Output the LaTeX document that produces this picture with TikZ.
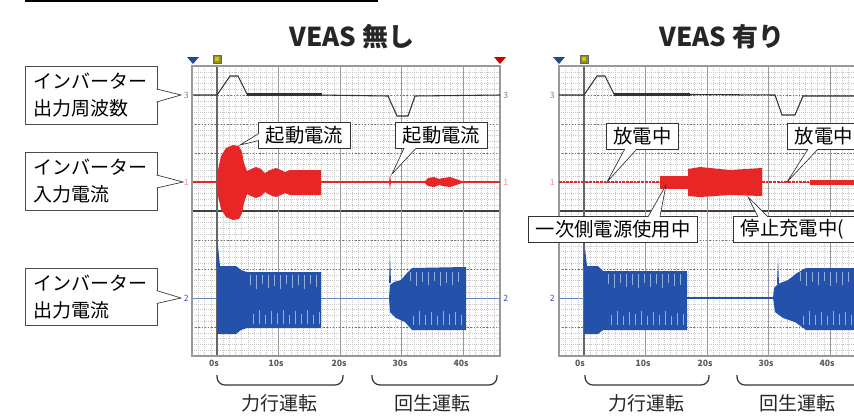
\documentclass[tikz,border=0pt]{standalone}
\usepackage{fontspec}
\setmainfont{Noto Sans CJK JP}
\usetikzlibrary{calc}

\definecolor{trcRed}{RGB}{232,38,38}
\definecolor{trcBlue}{RGB}{36,82,170}
\definecolor{trcLite}{RGB}{150,172,218}
\definecolor{mkGold}{RGB}{140,140,40}
\definecolor{mkBlue}{RGB}{36,70,150}
\definecolor{chNum}{RGB}{130,130,130}

\tikzset{
  lblbox/.style={draw=black!70, line width=0.6pt, fill=white, align=left, text width=87pt,
    inner xsep=6pt, minimum height=43pt, font=\fontsize{14.25}{20.25}\selectfont},
  callbox/.style={draw=black!80, line width=0.6pt, fill=white, inner xsep=5.5pt, inner ysep=0pt,
    minimum height=19.5pt, font=\fontsize{14.5}{16}\selectfont},
  tipline/.style={draw=black!80, line width=0.5pt},
  ttl/.style={font=\fontsize{19.5}{21}\selectfont\bfseries, text=black!85},
  tick/.style={font=\fontsize{6.5}{7}\selectfont\bfseries, text=black!65, inner sep=0.75pt},
  chnum/.style={font=\fontsize{6.5}{7}\selectfont, inner sep=0.75pt},
  minorgrid/.style={draw=black!22, line width=0.35pt, dash pattern=on 0.5pt off 1pt},
  majorh/.style={draw=black!55, line width=0.6pt, dash pattern=on 1pt off 1.4pt},
  majorv/.style={draw=black!40, line width=0.7pt},
  frame/.style={draw=black!40, line width=0.8pt},
  freqline/.style={draw=black!80, line width=0.8pt},
  brace/.style={draw=black!80, line width=0.9pt, rounded corners=6pt},
  modelbl/.style={font=\fontsize{14.25}{16}\selectfont, text=black!85, inner sep=0.75pt},
  stripe/.style={draw=trcLite, line width=0.6pt}
}

\newcommand{\calltip}[3]{%
  \fill[white] #1 -- #2 -- #3 -- cycle;
  \draw[tipline] #1 -- #2 -- #3;}

\begin{document}
\begin{tikzpicture}[x=0.75pt,y=0.75pt,yscale=-1,xscale=1]
\useasboundingbox (0,0) rectangle (854,415);

%Straight Lines top rule
\draw [line width=0.9pt] (25,1) -- (378,1) ;

% ---- left chart grid
\foreach \k in {-4,...,46} \draw [minorgrid] ({217+\k*6.15},66) -- ({217+\k*6.15},356) ;
\foreach \k in {1,...,49} \draw [minorgrid] (192,{66+\k*5.8}) -- (500,{66+\k*5.8}) ;
\foreach \k in {1,2,3,4,6,7,8,9} \draw [majorh] (192,{66+\k*29}) -- (500,{66+\k*29}) ;
\draw [draw=black!75, line width=1.1pt] (192,211) -- (500,211) ;
\foreach \k in {1,...,4} \draw [majorv] ({217+\k*61.5},66) -- ({217+\k*61.5},356) ;
\draw [draw=black!60, line width=0.9pt] (217,66) -- (217,356) ;
\draw [frame] (192,66) rectangle (500,356) ;

% ---- right chart grid
\foreach \k in {-4,...,45} \draw [minorgrid] ({584+\k*6.15},66) -- ({584+\k*6.15},356) ;
\foreach \k in {1,...,49} \draw [minorgrid] (559,{66+\k*5.8}) -- (870,{66+\k*5.8}) ;
\foreach \k in {1,2,3,4,6,7,8,9} \draw [majorh] (559,{66+\k*29}) -- (870,{66+\k*29}) ;
\draw [draw=black!75, line width=1.1pt] (559,211) -- (870,211) ;
\foreach \k in {1,...,4} \draw [majorv] ({584+\k*61.5},66) -- ({584+\k*61.5},356) ;
\draw [draw=black!60, line width=0.9pt] (584,66) -- (584,356) ;
\draw [frame] (559,66) rectangle (870,356) ;

% ---- markers
\fill [mkBlue] (187,57) -- (199,57) -- (193,64) -- cycle ;
\fill [mkBlue] (553,57) -- (565,57) -- (559,64) -- cycle ;
\fill [red!80!black] (494,57) -- (506,57) -- (500,64) -- cycle ;
\draw [fill=mkGold, draw=black!60, line width=0.4pt] (213,55) rectangle (221,63) ;
\draw [fill=mkGold, draw=black!60, line width=0.4pt] (580,55) rectangle (588,63) ;
\fill [yellow!60!olive] (215,57) rectangle (219,61) ;
\fill [yellow!60!olive] (582,57) rectangle (586,61) ;

% ---- frequency traces
\draw [freqline] (193,95) -- (217,95) -- (230,76) -- (238,76) -- (247,94) -- (388,96) -- (397,116) -- (408,116) -- (415,96) -- (500,95) ;
\draw [freqline, line width=1.6pt] (247,94.5) -- (322,94.5) ;
\draw [freqline] (559,95) -- (584,95) -- (597,76) -- (605,76) -- (614,94) -- (775,95) -- (782,115) -- (795,115) -- (803,96) -- (860,96) ;
\draw [freqline, line width=1.6pt] (614,94.5) -- (690,94.5) ;

% ---- input current traces
\draw [trcRed, line width=0.8pt] (193,182) -- (500,182) ;
\fill [trcRed] (217,182) -- (218,170) -- (221,156) -- (226,148) -- (233,145) -- (239,146) -- (242,152) -- (244,163) -- (247,171) -- (251,169) -- (256,167) -- (261,169) -- (265,173) -- (270,170) -- (276,168) -- (281,170) -- (285,172) -- (290,170) -- (321,170) -- (321,195) -- (290,195) -- (285,193) -- (281,195) -- (276,197) -- (270,195) -- (265,192) -- (261,196) -- (256,198) -- (251,196) -- (247,194) -- (244,203) -- (242,213) -- (239,219) -- (233,220) -- (226,217) -- (221,209) -- (218,196) -- cycle ;
\fill [trcRed] (389,182) -- (390,175) -- (391,182) -- (390,189) -- cycle ;
\fill [trcRed] (424,182) -- (428,178) -- (434,177) -- (439,179) -- (443,178) -- (450,177) -- (456,179) -- (465,182) -- (456,185) -- (450,187) -- (443,186) -- (439,185) -- (434,187) -- (428,186) -- cycle ;
\draw [trcRed, line width=0.8pt, dash pattern=on 2pt off 0.8pt] (559,182) -- (660,182) (762,182) -- (810,182) ;
\fill [trcRed] (660,176) rectangle (688,189) ;
\fill [trcRed] (688,169) -- (700,167) -- (730,170) -- (762,168) -- (762,196) -- (730,195) -- (700,197) -- (688,196) -- cycle ;
\fill [trcRed] (810,180) rectangle (860,185) ;

% ---- output current traces
\draw [trcBlue!70, line width=0.6pt] (193,298) -- (500,298) ;
\draw [trcBlue!70, line width=0.6pt] (559,298) -- (584,298) ;
\draw [trcBlue, line width=1.2pt] (687,298) -- (773,298) ;
\fill [trcBlue] (217,266) -- (236,266) -- (241,270) -- (247,272) -- (321,272) -- (321,328) -- (247,328) -- (241,330) -- (236,334) -- (217,334) -- cycle ;
\fill [trcBlue] (216,266) -- (218,246) -- (220,266) -- cycle ;
\fill [trcBlue] (389,298) -- (390,285) -- (394,282) -- (401,280) -- (407,273) -- (412,268) -- (466,267) -- (466,330) -- (412,330) -- (405,322) -- (396,318) -- (390,312) -- cycle ;
\fill [trcBlue] (389,283) -- (390,254) -- (391,283) -- cycle ;
\fill [trcBlue] (584,266) -- (598,266) -- (603,271) -- (687,271) -- (687,330) -- (603,330) -- (598,334) -- (584,334) -- cycle ;
\fill [trcBlue] (583,266) -- (585,248) -- (587,266) -- cycle ;
\fill [trcBlue] (773,298) -- (774,288) -- (778,284) -- (788,280) -- (797,273) -- (806,268) -- (860,268) -- (860,330) -- (806,330) -- (795,322) -- (783,318) -- (775,312) -- cycle ;
\fill [trcBlue] (777,284) -- (778,258) -- (779,284) -- cycle ;
\foreach \sx/\sl in {250/10,256/14,262/9,268/13,274/11,280/14,286/9,292/13,298/10,304/14,310/9,316/12} { \draw [stripe] (\sx,275) -- (\sx,{275+\sl}) ; \draw [stripe] ({\sx+3},{324-\sl}) -- ({\sx+3},324) ; }
\foreach \sx/\sl in {410/9,416/14,422/10,428/13,434/9,440/14,446/11,452/13,458/10} { \draw [stripe] (\sx,272) -- (\sx,{272+\sl}) ; \draw [stripe] ({\sx+3},{325-\sl}) -- ({\sx+3},325) ; }
\foreach \sx/\sl in {608/10,614/14,620/9,626/13,632/11,638/14,644/9,650/13,656/10,662/14,668/9,674/12,680/11} { \draw [stripe] (\sx,274) -- (\sx,{274+\sl}) ; \draw [stripe] ({\sx+3},{325-\sl}) -- ({\sx+3},325) ; }
\foreach \sx/\sl in {800/9,806/14,812/10,818/13,824/9,830/14,836/11,842/13,848/10} { \draw [stripe] (\sx,272) -- (\sx,{272+\sl}) ; \draw [stripe] ({\sx+3},{325-\sl}) -- ({\sx+3},325) ; }

% Text Node channel numbers
\draw (190,95) node [chnum, anchor=east, text=chNum] (n3a) {3};
\draw (190,182) node [chnum, anchor=east, text=red!45] (n1a) {1};
\draw (190,298) node [chnum, anchor=east, text=blue!40!gray] (n2a) {2};
\draw (502,95) node [chnum, anchor=west, text=chNum] (n3b) {3};
\draw (502,182) node [chnum, anchor=west, text=red!45] (n1b) {1};
\draw (502,298) node [chnum, anchor=west, text=blue!40!gray] (n2b) {2};
\draw (556,95) node [chnum, anchor=east, text=chNum] (n3c) {3};
\draw (556,182) node [chnum, anchor=east, text=red!45] (n1c) {1};
\draw (556,298) node [chnum, anchor=east, text=blue!40!gray] (n2c) {2};

% Text Node titles
\draw (352,37) node [ttl] (ttlA) {VEAS 無し};
\draw (722,37) node [ttl] (ttlB) {VEAS 有り};

% Text Node time ticks
\foreach \t/\lx in {0s/214,10s/276,20s/339,30s/400,40s/461} \draw (\lx,363) node [tick] {\t};
\foreach \t/\lx in {0s/580,10s/643,20s/705,30s/766,40s/827} \draw (\lx,363) node [tick] {\t};

% Text Node signal labels
\draw (91,95.5) node [lblbox] (lb1) {インバーター\\出力周波数};
\draw (91,181.5) node [lblbox] (lb2) {インバーター\\入力電流};
\draw (91,297) node [lblbox] (lb3) {インバーター\\出力電流};
\coordinate (tp1) at (181,95) ;
\coordinate (tp2) at (183,182) ;
\coordinate (tp3) at (181,298) ;
\calltip{($(lb1.east)+(-0.8,-6.5)$)}{(tp1)}{($(lb1.east)+(-0.8,6.5)$)}
\calltip{($(lb2.east)+(-0.8,-6.5)$)}{(tp2)}{($(lb2.east)+(-0.8,6.5)$)}
\calltip{($(lb3.east)+(-0.8,-6.5)$)}{(tp3)}{($(lb3.east)+(-0.8,6.5)$)}

% Text Node callouts
\draw (304.5,135.5) node [callbox] (c1) {起動電流};
\draw (441.5,135.5) node [callbox] (c2) {起動電流};
\draw (642.5,136.5) node [callbox] (c3) {放電中};
\draw (787,136.5) node [callbox, anchor=west] (c4) {放電中};
\draw (613,229.5) node [callbox] (c5) {一次側電源使用中};
\draw (733,229.5) node [callbox, anchor=west, align=left, text width=92pt] (c6) {停止充電中(};
\coordinate (tc1) at (240,145) ;
\coordinate (tc2) at (392,174) ;
\coordinate (tc3) at (607,182) ;
\coordinate (tc4) at (787,182) ;
\coordinate (tc5) at (666,185) ;
\coordinate (tc6) at (748,197) ;
\calltip{($(c1.west)+(0.8,-2)$)}{(tc1)}{($(c1.west)+(0.8,5)$)}
\calltip{($(c2.south west)+(9,-0.8)$)}{(tc2)}{($(c2.south west)+(21,-0.8)$)}
\calltip{($(c3.south west)+(19,-0.8)$)}{(tc3)}{($(c3.south west)+(31,-0.8)$)}
\calltip{($(c4.south west)+(21,-0.8)$)}{(tc4)}{($(c4.south west)+(31,-0.8)$)}
\calltip{($(c5.north west)+(120,0.8)$)}{(tc5)}{($(c5.north west)+(132,0.8)$)}
\calltip{($(c6.north west)+(25,0.8)$)}{(tc6)}{($(c6.north west)+(35,0.8)$)}

% ---- operation braces
\coordinate (b1l) at (217,375) ; \coordinate (b1r) at (343,375) ;
\coordinate (b2l) at (372,375) ; \coordinate (b2r) at (497,375) ;
\coordinate (b3l) at (585,375) ; \coordinate (b3r) at (709,375) ;
\coordinate (b4l) at (737,375) ; \coordinate (b4r) at (862,375) ;
\draw [brace] (b1l) -- ++(0,10) -| (b1r) ;
\draw [brace] (b2l) -- ++(0,10) -| (b2r) ;
\draw [brace] (b3l) -- ++(0,10) -| (b3r) ;
\draw [brace] (b4l) -- ++(0,10) -| (b4r) ;

% Text Node modes
\draw (279,403) node [modelbl] (m1) {力行運転};
\draw (432,403) node [modelbl] (m2) {回生運転};
\draw (646,403) node [modelbl] (m3) {力行運転};
\draw (797,403) node [modelbl] (m4) {回生運転};

\end{tikzpicture}
\end{document}
